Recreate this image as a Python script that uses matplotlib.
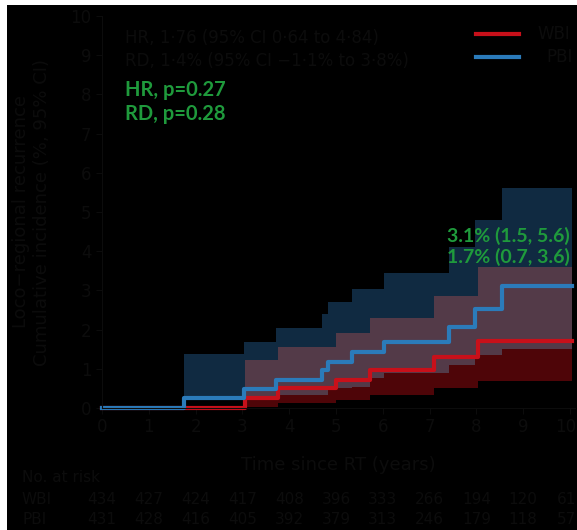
import numpy as np
import matplotlib.pyplot as plt
import matplotlib.transforms as mtransforms
from matplotlib.patches import Rectangle

# Cumulative incidence step data (years, %)
wbi_times = [0, 3.05, 3.77, 5.0, 5.72, 7.1, 8.03, 10.05]
wbi_est = [0, 0.25, 0.5, 0.71, 0.97, 1.3, 1.7]
wbi_low = [0, 0.03, 0.12, 0.2, 0.33, 0.5, 0.7]
wbi_up = [0, 1.22, 1.55, 1.92, 2.3, 2.86, 3.6]

pbi_times = [0, 1.75, 3.03, 3.72, 4.7, 4.83, 5.35, 5.72, 6.03, 7.42, 7.97, 8.55, 10.05]
pbi_est = [0, 0.26, 0.48, 0.71, 0.97, 1.17, 1.43, 1.43, 1.68, 2.07, 2.53, 3.1]
pbi_low = [0, 0.2, 0.22, 0.33, 0.33, 0.5, 0.54, 0.77, 0.89, 1.1, 1.35, 1.5]
pbi_up = [0, 1.38, 1.68, 2.04, 2.4, 2.7, 3.04, 3.04, 3.44, 4.1, 4.8, 5.6]

years = list(range(0, 11))
risk_wbi = [434, 427, 424, 417, 408, 396, 333, 266, 194, 120, 61]
risk_pbi = [431, 428, 416, 405, 392, 379, 313, 246, 179, 118, 57]

red = '#c8101a'
blue = '#2b7bba'
green = '#1f9a3c'
dark = '#0c0c0c'
band_wbi = '#4e0508'
band_pbi = '#102a41'
band_both = '#533a48'

fig = plt.figure(figsize=(5.77, 5.30), dpi=100)
fig.patch.set_facecolor('white')
fig.patches.append(Rectangle((7 / 577, 0), 1, 525 / 530, transform=fig.transFigure,
                             facecolor='black', edgecolor='none', zorder=-10))

ax = fig.add_axes([102 / 577, 1 - 408 / 530, 472.7 / 577, 392 / 530])
ax.set_zorder(1)
ax.patch.set_alpha(0)


def steps(t, v):
    return t, list(v) + [v[-1]]


def on_grid(t, v, grid):
    idx = np.searchsorted(t, grid, side='right') - 1
    return np.asarray(v)[np.clip(idx, 0, len(v) - 1)]


grid = np.union1d(wbi_times, pbi_times)
wl = on_grid(wbi_times, wbi_low, grid)
wu = on_grid(wbi_times, wbi_up, grid)
pl = on_grid(pbi_times, pbi_low, grid)
pu = on_grid(pbi_times, pbi_up, grid)
ov_lo = np.maximum(wl, pl)
ov_hi = np.maximum(np.minimum(wu, pu), ov_lo)

# CI bands: WBI only, PBI only, and where they overlap
ax.fill_between(grid, wl, wu, step='post', color=band_wbi, lw=0)
ax.fill_between(grid, pl, pu, step='post', color=band_pbi, lw=0)
ax.fill_between(grid, ov_lo, ov_hi, step='post', color=band_both, lw=0)

ax.step(*steps(wbi_times, wbi_est), where='post', color=red, lw=3, clip_on=False)
ax.step(*steps(pbi_times, pbi_est), where='post', color=blue, lw=3, clip_on=False)

ax.set_xlim(0, 10.1)
ax.set_ylim(0, 10)
ax.set_xticks(years)
ax.set_yticks(range(0, 11))
ax.tick_params(colors=dark, labelsize=12, length=4)
for s in ax.spines.values():
    s.set_color(dark)
ax.spines['top'].set_visible(False)
ax.spines['right'].set_visible(False)
last = ax.get_xticklabels()[-1]
last.set_transform(last.get_transform() +
                   mtransforms.ScaledTranslation(-4 / 100, 0, fig.dpi_scale_trans))

# legend
ax.plot([8.0, 8.9], [9.55, 9.55], color=red, lw=3)
ax.plot([8.0, 8.9], [8.95, 8.95], color=blue, lw=3)
ax.text(9.3, 9.55, 'WBI', color=dark, fontsize=12, va='center')
ax.text(9.5, 8.95, 'PBI', color=dark, fontsize=12, va='center')

# statistics
ax.text(0.5, 9.45, 'HR, 1·76 (95% CI 0·64 to 4·84)', color=dark, fontsize=12, va='center')
ax.text(0.5, 8.85, 'RD, 1·4% (95% CI −1·1% to 3·8%)', color=dark, fontsize=12, va='center')
ax.text(0.5, 8.1, 'HR, p=0.27', color=green, fontsize=14.5, fontweight='bold',
        family='Lato', va='center')
ax.text(0.5, 7.5, 'RD, p=0.28', color=green, fontsize=14.5, fontweight='bold',
        family='Lato', va='center')
ax.text(10.0, 4.4, '3.1% (1.5, 5.6)', color=green, fontsize=14, fontweight='bold',
        family='Lato', ha='right', va='center')
ax.text(10.0, 3.85, '1.7% (0.7, 3.6)', color=green, fontsize=14, fontweight='bold',
        family='Lato', ha='right', va='center')

ax.set_ylabel('Loco−regional recurrence\nCumulative incidence (%, 95% CI)',
              color=dark, fontsize=13, labelpad=14)
ax.set_xlabel('Time since RT (years)', color=dark, fontsize=13, labelpad=14)

# numbers at risk
fig.text(22 / 577, 1 - 477 / 530, 'No. at risk', color=dark, fontsize=11, va='center')
fig.text(22 / 577, 1 - 500 / 530, 'WBI', color=dark, fontsize=11, va='center')
fig.text(22 / 577, 1 - 520 / 530, 'PBI', color=dark, fontsize=11, va='center')
for yr, a, b in zip(years, risk_wbi, risk_pbi):
    x_fig = fig.transFigure.inverted().transform(ax.transData.transform((yr, 0)))[0]
    ha = 'center'
    if yr == years[-1]:
        x_fig, ha = 0.998, 'right'
    fig.text(x_fig, 1 - 500 / 530, str(a), color=dark, fontsize=11, ha=ha, va='center')
    fig.text(x_fig, 1 - 520 / 530, str(b), color=dark, fontsize=11, ha=ha, va='center')

fig.savefig('out.png', dpi=100, facecolor=fig.get_facecolor())
